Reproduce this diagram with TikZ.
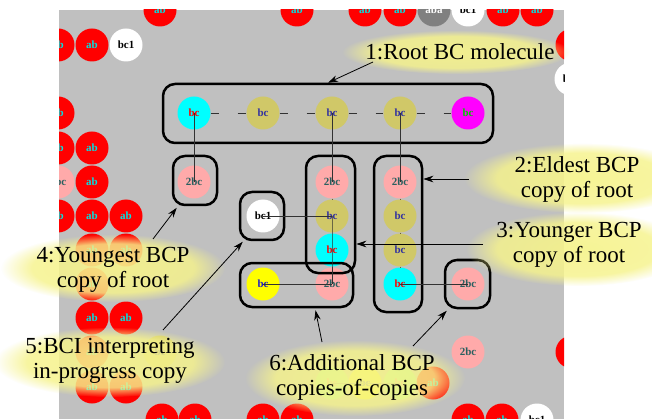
\documentclass[tikz,border=0pt]{standalone}
\usepackage{fontspec}
\setmainfont{Liberation Serif}
\newfontfamily\lserif{Liberation Serif}
\usetikzlibrary{arrows.meta,fadings,calc}
\definecolor{bggray}{RGB}{192,192,192}
\definecolor{cred}{RGB}{255,0,0}
\definecolor{cpink}{RGB}{255,170,170}
\definecolor{colive}{RGB}{208,200,104}
\definecolor{ccyan}{RGB}{0,255,255}
\definecolor{cmag}{RGB}{255,0,255}
\definecolor{cyel}{RGB}{255,255,0}
\definecolor{cgreen}{RGB}{150,255,150}
\definecolor{cgrayc}{RGB}{128,128,128}
\definecolor{tcyan}{RGB}{0,225,225}
\definecolor{tteal}{RGB}{40,95,95}
\definecolor{tnavy}{RGB}{50,50,160}
\definecolor{tgreen}{RGB}{0,200,0}
\definecolor{tblue}{RGB}{30,30,200}
\definecolor{glowc}{RGB}{246,243,140}
\definecolor{bondc}{RGB}{50,50,50}
\definecolor{chainc}{RGB}{110,95,50}
\pgfdeclareradialshading{glowsh}{\pgfpointorigin}{color(0bp)=(white!92!black); color(18bp)=(white!82!black); color(25bp)=(black); color(50bp)=(black)}
\pgfdeclarefading{glowfade}{\pgfuseshading{glowsh}}
\tikzset{
  mol/.style={circle, minimum size=33pt, inner sep=0pt, font=\lserif\fontsize{11}{11}\selectfont\bfseries},
  ab/.style={mol, fill=cred, text=tcyan},
  tbc/.style={mol, fill=cpink, text=tteal},
  ol/.style={mol, fill=colive, text=tnavy},
  cy/.style={mol, fill=ccyan, text=red},
  mg/.style={mol, fill=cmag, text=tgreen},
  ye/.style={mol, fill=cyel, text=tblue},
  wh/.style={mol, fill=white, text=black},
  gr/.style={mol, fill=cgrayc, text=white},
  gn/.style={mol, fill=cgreen, text=red!45},
  grp/.style={draw=black, line width=2.5pt, rounded corners=12pt, inner sep=0pt},
  bond/.style={draw=bondc, line width=0.9pt},
  chain/.style={draw=chainc, line width=1pt},
  rbond/.style={draw=bondc, line width=0.9pt, dash pattern=on 8pt off 19pt},
  callout/.style={-{Stealth[length=10pt,width=6.5pt]}, line width=0.8pt, draw=black},
  lbl/.style={align=center, font=\lserif\fontsize{23}{25}\selectfont, inner sep=0pt},
  glow/.style={fill=glowc, path fading=glowfade},
}
\begin{document}
\begin{tikzpicture}[x=1pt,y=-1pt]
\useasboundingbox (0,0) rectangle (652,419);
\fill[white] (0,0) rectangle (652,419);
\begin{scope}
\clip (59,10) rectangle (564,419);
\fill[bggray] (59,10) rectangle (564,419);
% background molecules
\foreach \x/\y/\s/\lab [count=\i] in {
  160/10/ab/ab, 297/10/ab/ab, 365/10/ab/ab, 400/10/ab/ab, 434/10/gr/aba, 468/10/wh/bc1, 503/10/ab/ab, 537/10/ab/ab,
  572/45/ab/ab, 571/79/wh/bc1, 572/352/ab/ab,
  58/45/ab/ab, 92/45/ab/ab, 126/45/wh/bc1,
  58/113/ab/ab, 58/148/ab/ab, 92/148/ab/ab, 58/182/tbc/2bc, 92/182/ab/ab,
  58/216/ab/ab, 92/216/ab/ab, 126/216/ab/ab, 92/250/ab/ab, 126/250/ab/ab,
  92/284/ab/ab, 92/318/ab/ab, 126/318/ab/ab, 92/352/ab/ab, 160/352/ol/bc,
  92/387/ab/ab, 126/387/ab/ab,
  162/420/ab/ab, 195/420/ab/ab, 263/420/ab/ab, 297/420/ab/ab, 468/420/ab/ab, 502/420/ab/ab, 537/420/wh/bc1,
  468/352/tbc/2bc, 365/383/ye/bc, 433/383/ab/ab}
  \node[style=\s] (bg\i) at (\x,\y) {\lab};
\node[gn] (g1) at (332,383) {bc};
\node[gn] (g2) at (400,383) {bc};
\draw[bond, draw=bondc!60] (g1.center) -- (g2.center);
% root molecule
\node[cy] (r1) at (194,113) {bc};
\node[ol] (r2) at (263,113) {bc};
\node[ol] (r3) at (332,113) {bc};
\node[ol] (r4) at (400,113) {bc};
\node[mg] (r5) at (468,113) {bc};
\draw[rbond] (r1.east) -- (r2.west);
\draw[rbond] (r2.east) -- (r3.west);
\draw[rbond] (r3.east) -- (r4.west);
\draw[rbond] (r4.east) -- (r5.west);
% copies
\node[tbc] (y1) at (194,182) {2bc};
\node[tbc] (m1) at (332,182) {2bc};
\node[ol] (m2) at (332,216) {bc};
\node[cy] (m3) at (332,250) {bc};
\node[tbc] (l2) at (332,284) {2bc};
\node[ye] (l1) at (263,284) {bc};
\node[wh] (w1) at (263,216) {bc1};
\node[tbc] (e1) at (400,182) {2bc};
\node[ol] (e2) at (400,216) {bc};
\node[ol] (e3) at (400,250) {bc};
\node[cy] (e4) at (400,284) {bc};
\node[tbc] (c1) at (468,284) {2bc};
% group boxes
\node[grp, minimum width=330pt, minimum height=59pt] (rootbox) at (328,113.5) {};
\node[grp, minimum width=44pt, minimum height=49pt] (ybox) at (195,180.5) {};
\node[grp, minimum width=49pt, minimum height=117pt] (midbox) at (330.5,214.5) {};
\node[grp, minimum width=48pt, minimum height=156pt] (rightbox) at (398,234) {};
\node[grp, minimum width=44pt, minimum height=48pt] (wbox) at (262,216) {};
\node[grp, minimum width=113pt, minimum height=44pt] (lowbox) at (296.5,285) {};
\node[grp, minimum width=45pt, minimum height=48pt] (cbox) at (467.5,284) {};
% bonds
\draw[bond] (r1.center) -- (y1.center);
\draw[bond] (r3.center) -- (m1.center);
\draw[bond] (r4.center) -- (e1.center);
\draw[chain] (m1.south) -- (m2.north);
\draw[bond] (m2.center) -- (m3.center) -- (l2.center);
\draw[bond] (w1.center) -- (m2.center);
\draw[bond] (l1.center) -- (l2.center);
\draw[chain] (e1.south) -- (e2.north);
\draw[chain] (e2.south) -- (e3.north);
\draw[chain] (e3.south) -- (e4.north);
\draw[bond] (e4.center) -- (c1.center);
\end{scope}
% glows
\fill[glow] (456,52) ellipse [x radius=114pt, y radius=22pt];
\fill[glow] (582,178) ellipse [x radius=118pt, y radius=35pt];
\fill[glow] (578,249) ellipse [x radius=112pt, y radius=37pt];
\fill[glow] (113,268) ellipse [x radius=112pt, y radius=34pt];
\fill[glow] (110,362) ellipse [x radius=115pt, y radius=35pt];
\fill[glow] (355,378) ellipse [x radius=110pt, y radius=38pt];
% labels
\node[lbl] (t1) at (460,52) {1:Root BC molecule};
\node[lbl] (t2) at (577,180) {2:Eldest BCP\\copy of root};
\node[lbl] (t3) at (569,245) {3:Younger BCP\\copy of root};
\node[lbl] (t4) at (113,270) {4:Youngest BCP\\copy of root};
\node[lbl] (t5) at (110,361) {5:BCI interpreting\\in-progress copy};
\node[lbl] (t6) at (352,377) {6:Additional BCP\\copies-of-copies};
% callout arrows
\coordinate (a1) at (373,62);
\coordinate (a2) at (469,179);
\coordinate (a3) at (483,244);
\coordinate (a4) at (153,239);
\coordinate (a5) at (163,330);
\coordinate (a6) at (322,342);
\coordinate (a7) at (413,346);
\draw[callout] (a1) -- (rootbox.north);
\draw[callout] (a2) -- (a2 -| rightbox.east);
\draw[callout] (a3) -- (a3 -| midbox.east);
\draw[callout] (a4) -- ($(ybox.south west)+(5,1.5)$);
\draw[callout] (a5) -- ($(wbox.south west)+(4,0.5)$);
\draw[callout] (a6) -- ($(lowbox.south)+(19,2)$);
\draw[callout] (a7) -- ($(cbox.south west)+(3,1.5)$);
\end{tikzpicture}
\end{document}
